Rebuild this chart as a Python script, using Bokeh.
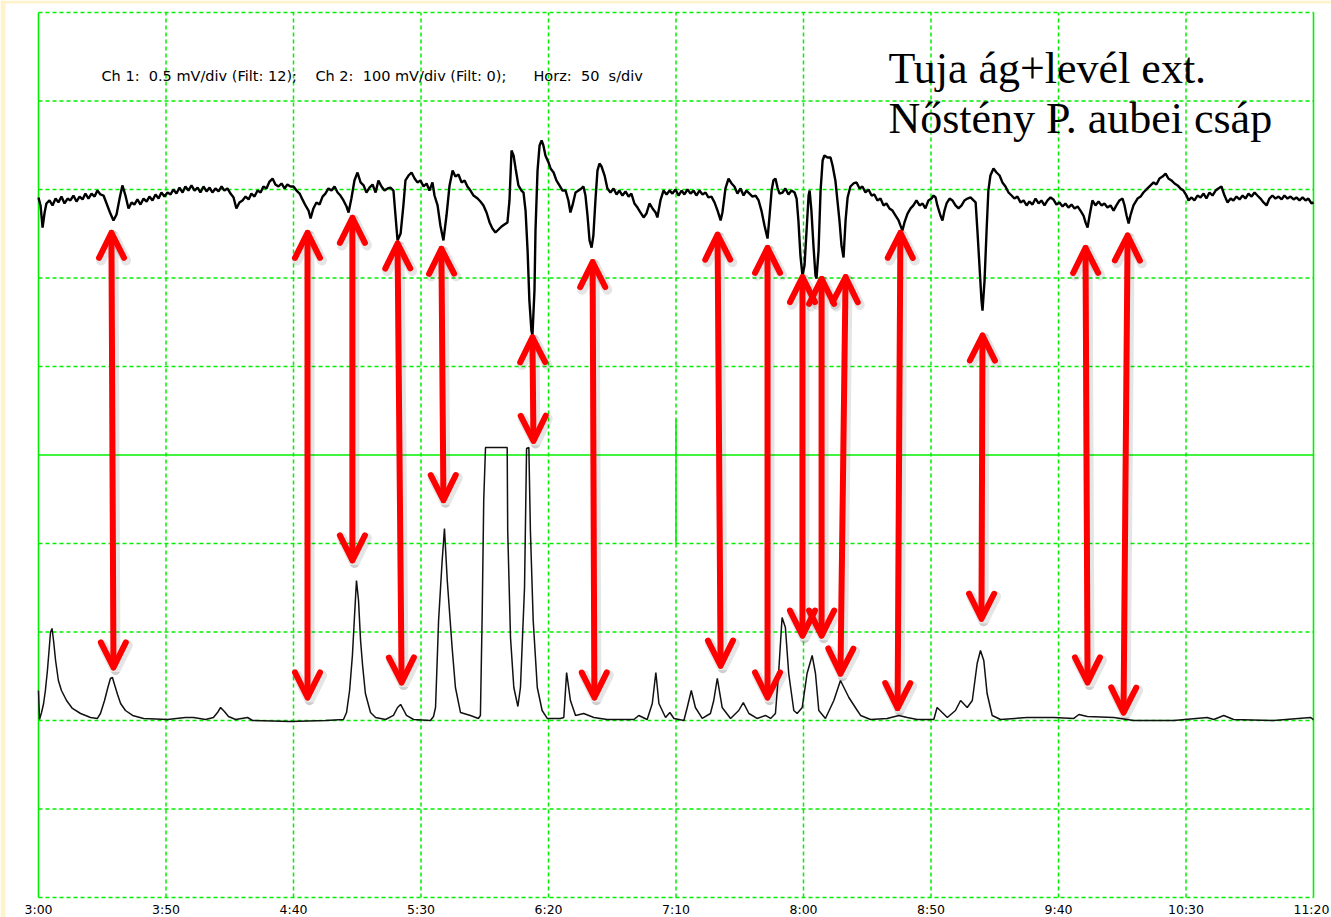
from bokeh.plotting import figure
from bokeh.models import Range1d, Arrow, OpenHead, ColumnDataSource, BoxAnnotation
from bokeh.core.properties import value
from bokeh.embed import file_html
from bokeh.resources import INLINE

# ---------------- data ----------------
tick_seconds = [180, 230, 280, 330, 380, 430, 480, 530, 580, 630, 680]
tick_labels = ["3:00", "3:50", "4:40", "5:30", "6:20", "7:10", "8:00", "8:50", "9:40", "10:30", "11:20"]
grid_rows = [0, 1, 2, 3, 4, 5, 6, 7, 8, 9, 10]

NB = "\u00a0"
header_texts = ["Ch 1:" + NB * 2 + "0.5 mV/div (Filt: 12);",
                "Ch 2:" + NB * 2 + "100 mV/div (Filt: 0);",
                "Horz:" + NB * 2 + "50" + NB * 2 + "s/div"]
header_seconds = [204.7, 288.6, 374.1]
title_lines = ["Tuja ág+levél ext.", "Nőstény P. aubei csáp"]

# Ch 1 (EAD): time [s], signal [mV] relative to its baseline division
ead_points = [
    (180.0,-0.045),(180.8,-0.090),(181.6,-0.215),(182.4,-0.130),(183.1,-0.079),(184.3,-0.062),(185.5,-0.090),
    (186.7,-0.051),(187.8,-0.073),(189.0,-0.040),(190.2,-0.079),(191.4,-0.051),(192.5,-0.062),(193.7,-0.034),
    (194.9,-0.068),(196.1,-0.040),(197.3,-0.056),(198.4,-0.023),(199.6,-0.051),(200.8,-0.023),(202.0,-0.040),
    (203.1,-0.006),(204.3,-0.028),(205.5,-0.034),(206.7,-0.079),(208.2,-0.136),(209.4,-0.175),(210.6,-0.141),
    (211.8,-0.051),(212.9,0.023),(214.1,-0.034),(215.3,-0.107),(216.5,-0.073),(217.6,-0.085),(218.8,-0.056),
    (220.0,-0.085),(221.2,-0.051),(222.4,-0.068),(223.5,-0.040),(224.7,-0.062),(225.9,-0.028),(227.1,-0.051),
    (228.2,-0.017),(229.4,-0.040),(230.6,-0.017),(231.8,-0.028),(232.9,0.000),(234.1,-0.023),(235.3,0.011),
    (236.5,-0.017),(237.6,0.017),(238.8,-0.006),(240.0,0.023),(241.2,-0.006),(242.4,0.011),(243.5,-0.017),
    (244.7,0.017),(245.9,-0.011),(247.1,0.011),(248.2,-0.017),(249.4,0.006),(250.6,-0.011),(251.8,0.017),
    (252.9,-0.006),(254.1,0.006),(255.3,-0.023),(256.5,-0.045),(257.6,-0.107),(258.8,-0.073),(260.0,-0.062),
    (261.2,-0.040),(262.4,-0.056),(263.5,-0.023),(264.7,-0.040),(265.9,-0.006),(267.1,-0.017),(268.2,0.017),
    (269.4,0.006),(270.6,0.045),(271.8,0.062),(272.9,0.028),(274.1,0.017),(275.3,0.034),(276.5,0.006),
    (277.6,0.028),(278.8,0.017),(280.0,0.017),(281.2,-0.006),(282.4,-0.023),(283.5,-0.056),(284.7,-0.090),
    (285.9,-0.119),(286.7,-0.164),(287.8,-0.107),(289.0,-0.073),(290.2,-0.085),(291.4,-0.040),(292.5,-0.023),
    (293.7,0.006),(294.9,-0.006),(296.1,0.017),(297.3,-0.017),(298.4,-0.034),(299.6,-0.062),(300.8,-0.096),
    (301.6,-0.130),(302.7,-0.051),(303.9,0.051),(305.1,0.096),(306.3,0.040),(307.5,0.023),(308.6,-0.017),
    (309.8,0.011),(311.0,0.028),(312.2,-0.017),(313.3,0.051),(314.5,0.017),(315.7,-0.006),(316.9,0.006),
    (318.0,0.011),(319.2,-0.006),(320.0,-0.147),(320.8,-0.288),(322.0,-0.249),(323.1,-0.090),(323.9,0.051),
    (325.1,0.079),(326.3,0.096),(327.5,0.062),(328.6,0.040),(329.8,0.051),(331.0,0.017),(332.2,0.034),
    (333.3,-0.006),(334.5,0.040),(335.3,-0.034),(336.5,-0.090),(337.6,-0.203),(338.8,-0.288),(340.0,-0.147),
    (341.2,0.023),(342.4,0.107),(343.5,0.073),(344.7,0.085),(345.9,0.040),(347.1,0.051),(348.2,0.017),
    (349.4,-0.006),(350.6,-0.034),(352.2,-0.051),(353.3,-0.068),(354.5,-0.090),(355.7,-0.130),(356.9,-0.186),
    (358.0,-0.220),(359.2,-0.243),(360.4,-0.226),(361.6,-0.209),(362.7,-0.198),(363.9,-0.186),(364.7,-0.062),
    (365.5,0.220),(366.3,0.192),(367.1,0.119),(368.2,0.023),(369.4,-0.006),(370.2,-0.017),(371.0,-0.119),
    (371.8,-0.345),(372.5,-0.627),(373.3,-0.797),(373.7,-0.825),(374.5,-0.571),(374.9,-0.232),(375.7,0.107),
    (376.5,0.249),(377.3,0.277),(378.0,0.249),(378.8,0.192),(380.0,0.153),(380.8,0.119),(382.0,0.096),
    (383.1,0.051),(384.3,0.023),(385.5,-0.006),(386.7,-0.006),(387.8,-0.062),(388.6,-0.130),(389.4,-0.090),
    (390.6,-0.017),(391.8,-0.006),(392.9,0.006),(393.7,0.017),(394.5,-0.034),(395.3,-0.147),(396.1,-0.288),
    (396.9,-0.328),(397.6,-0.260),(398.4,-0.062),(399.2,0.107),(400.0,0.147),(400.8,0.130),(402.0,0.079),
    (403.1,0.006),(404.3,-0.017),(405.5,0.006),(406.7,-0.028),(407.8,-0.006),(409.0,-0.034),(410.2,-0.011),
    (411.4,-0.040),(412.5,-0.023),(413.7,-0.079),(414.9,-0.102),(416.1,-0.130),(417.3,-0.158),(418.4,-0.136),
    (419.6,-0.079),(420.8,-0.107),(422.0,-0.130),(422.7,-0.158),(423.9,-0.062),(425.1,-0.006),(426.3,-0.028),
    (427.5,-0.006),(428.6,-0.023),(429.8,0.000),(431.0,-0.034),(432.2,-0.006),(433.3,-0.028),(434.5,0.000),
    (435.7,-0.023),(436.9,-0.006),(438.0,-0.034),(439.2,-0.006),(440.4,-0.028),(441.6,-0.017),(442.7,-0.045),
    (443.9,-0.040),(445.1,-0.073),(446.3,-0.119),(447.5,-0.175),(448.2,-0.130),(449.4,0.006),(450.6,0.062),
    (451.8,0.034),(452.9,0.017),(454.1,-0.023),(455.3,0.006),(456.5,-0.034),(457.6,-0.006),(458.8,-0.023),
    (460.0,-0.040),(461.2,-0.034),(462.4,-0.062),(463.5,-0.119),(464.7,-0.203),(465.9,-0.277),(466.7,-0.147),
    (467.5,-0.006),(468.2,0.051),(469.0,0.062),(469.8,0.011),(470.6,-0.023),(471.8,-0.017),(472.9,0.006),
    (474.1,-0.028),(475.3,-0.006),(476.5,-0.017),(477.3,-0.051),(478.0,-0.175),(478.8,-0.373),(479.6,-0.486),
    (480.4,-0.429),(481.2,-0.232),(482.0,-0.034),(482.4,-0.006),(483.1,-0.119),(483.9,-0.316),(484.7,-0.486),
    (485.1,-0.503),(485.9,-0.345),(486.7,-0.006),(487.5,0.164),(488.2,0.192),(489.4,0.181),(490.6,0.181),
    (491.4,0.136),(492.5,0.051),(493.3,-0.062),(494.1,-0.175),(494.9,-0.316),(495.7,-0.384),(496.5,-0.175),
    (497.3,-0.045),(498.4,0.017),(499.6,0.034),(500.8,0.040),(502.0,0.006),(503.1,0.017),(504.3,-0.017),
    (505.5,0.000),(506.7,-0.034),(507.8,-0.028),(509.0,-0.062),(510.2,-0.051),(511.4,-0.090),(512.5,-0.079),
    (513.7,-0.107),(514.9,-0.119),(516.1,-0.147),(517.3,-0.175),(518.0,-0.203),(518.8,-0.232),(519.6,-0.186),
    (520.8,-0.136),(522.0,-0.107),(523.1,-0.090),(524.3,-0.062),(525.5,-0.090),(526.7,-0.079),(527.8,-0.107),
    (529.0,-0.062),(530.2,-0.051),(531.0,-0.034),(531.8,-0.045),(532.5,-0.090),(533.7,-0.147),(534.5,-0.175),
    (535.3,-0.119),(536.1,-0.079),(537.3,-0.051),(538.4,-0.062),(539.6,-0.090),(540.8,-0.107),(542.0,-0.090),
    (543.1,-0.062),(544.3,-0.051),(545.5,-0.045),(546.7,-0.062),(547.5,-0.073),(548.2,-0.232),(549.0,-0.429),
    (549.8,-0.627),(550.2,-0.684),(551.0,-0.514),(551.8,-0.232),(552.5,-0.006),(553.3,0.079),(554.5,0.119),
    (555.7,0.096),(556.9,0.079),(558.0,0.040),(559.2,0.017),(560.4,-0.017),(561.6,-0.034),(562.7,-0.051),
    (563.9,-0.040),(565.1,-0.073),(566.3,-0.062),(567.5,-0.090),(568.6,-0.068),(569.8,-0.085),(571.0,-0.051),
    (572.2,-0.079),(573.3,-0.062),(574.5,-0.090),(575.7,-0.062),(576.9,-0.045),(578.0,-0.056),(579.2,-0.085),
    (580.4,-0.073),(581.6,-0.096),(582.7,-0.079),(583.9,-0.102),(585.1,-0.085),(586.3,-0.107),(587.5,-0.096),
    (588.6,-0.119),(589.8,-0.147),(590.6,-0.186),(591.4,-0.215),(592.2,-0.147),(593.3,-0.062),(594.5,-0.090),
    (595.7,-0.068),(596.9,-0.090),(598.0,-0.079),(599.2,-0.102),(600.4,-0.090),(601.6,-0.119),(602.7,-0.090),
    (603.9,-0.062),(605.1,-0.051),(605.9,-0.090),(606.7,-0.147),(607.5,-0.192),(608.2,-0.147),(609.4,-0.090),
    (611.0,-0.051),(612.2,-0.040),(613.3,-0.017),(614.9,0.006),(616.1,0.023),(617.3,0.040),(618.4,0.028),
    (619.6,0.062),(620.8,0.073),(622.0,0.090),(623.1,0.062),(624.3,0.051),(625.5,0.034),(626.7,0.023),
    (627.8,0.006),(629.0,-0.006),(630.2,-0.034),(631.0,-0.062),(632.2,-0.045),(633.3,-0.062),(634.5,-0.034),
    (635.7,-0.045),(636.9,-0.023),(638.0,-0.051),(639.2,-0.017),(640.4,-0.034),(641.6,-0.006),(642.7,0.006),
    (643.9,0.017),(645.1,-0.034),(646.3,-0.073),(647.5,-0.051),(648.6,-0.062),(649.8,-0.040),(651.0,-0.056),
    (652.2,-0.034),(653.3,-0.051),(654.5,-0.023),(655.7,-0.040),(656.9,-0.017),(658.0,-0.034),(659.2,-0.051),
    (660.4,-0.073),(661.6,-0.090),(662.7,-0.051),(663.9,-0.034),(665.1,-0.051),(666.3,-0.040),(667.5,-0.056),
    (668.6,-0.034),(669.8,-0.051),(671.0,-0.040),(672.2,-0.056),(673.3,-0.045),(674.5,-0.062),(675.7,-0.045),
    (676.9,-0.062),(678.0,-0.051),(679.2,-0.079),(680.0,-0.073),
]

# Ch 2 (FID): time [s], signal [mV] relative to its baseline division
fid_points = [
    (180.0,33.9),(180.4,1.1),(181.2,9.0),(182.0,19.2),(182.7,33.9),(183.5,56.5),(184.3,84.8),(184.7,99.4),
    (185.3,104.0),(185.9,90.4),(186.7,67.8),(187.8,45.2),(189.0,33.9),(191.0,22.6),(193.3,13.6),(196.5,7.9),
    (200.4,3.4),(203.1,2.3),(204.3,7.9),(205.9,22.6),(207.1,36.2),(208.2,47.5),(209.0,48.6),(209.8,40.7),
    (211.0,29.4),(212.2,19.2),(214.1,11.3),(216.9,5.7),(221.2,2.3),(230.6,1.1),(237.6,3.4),(240.8,3.4),
    (245.5,1.1),(248.6,3.4),(250.2,9.0),(251.4,14.7),(252.9,10.2),(254.5,4.5),(257.3,1.1),(262.0,3.4),
    (263.9,0.0),(278.8,-1.1),(292.5,0.0),(299.6,1.1),(300.8,9.0),(302.0,33.9),(303.1,73.5),(303.9,116.4),
    (304.7,158.2),(305.5,135.6),(306.3,90.4),(307.1,62.2),(308.2,30.5),(310.2,9.0),(312.2,3.4),(316.1,1.1),
    (319.2,5.7),(320.8,14.7),(322.0,18.1),(323.1,12.4),(324.3,5.7),(327.1,1.1),(333.7,0.0),(334.9,4.5),
    (335.7,14.7),(336.9,113.0),(338.3,180.8),(339.2,217.0),(340.3,158.2),(342.2,82.5),(343.5,37.3),(345.5,9.0),
    (349.4,5.7),(352.5,2.3),(353.3,5.7),(354.0,120.9),(354.6,248.6),(355.3,308.5),(363.8,308.5),(364.0,214.7),
    (365.1,93.8),(366.4,37.3),(368.0,15.8),(369.0,37.3),(370.6,150.3),(371.4,307.4),(372.3,308.5),(372.9,214.7),
    (374.0,113.0),(375.6,37.3),(377.5,11.3),(379.5,2.3),(384.7,2.3),(386.0,3.4),(387.1,54.2),(388.6,22.6),
    (390.6,5.7),(393.8,7.9),(397.8,3.4),(403.0,1.1),(413.5,1.1),(415.4,5.7),(418.7,1.1),(420.7,19.2),
    (422.1,54.2),(423.3,19.2),(425.9,3.4),(427.6,9.0),(429.2,2.3),(433.1,0.0),(434.4,14.7),(436.0,33.9),
    (437.6,14.7),(440.3,2.3),(443.5,7.9),(444.8,22.6),(446.2,47.5),(448.1,14.7),(451.4,2.3),(454.6,11.3),
    (456.4,20.3),(458.6,7.9),(461.8,2.3),(465.1,5.7),(467.1,2.3),(469.0,7.9),(470.3,56.5),(471.6,116.4),
    (472.9,105.1),(474.2,53.1),(476.2,11.3),(477.5,7.9),(479.5,14.7),(481.4,53.1),(483.4,73.5),(484.7,53.1),
    (486.0,11.3),(488.6,2.3),(491.9,22.6),(494.5,45.2),(497.8,26.0),(501.1,11.3),(502.4,5.7),(506.3,1.1),
    (512.8,2.3),(517.4,5.7),(520.7,3.4),(524.6,1.1),(531.1,1.1),(532.4,14.7),(536.4,3.4),(539.6,11.3),
    (541.6,22.6),(544.2,14.7),(546.2,22.6),(548.1,64.4),(549.4,79.1),(550.7,67.8),(552.0,30.5),(554.0,5.7),
    (557.3,1.1),(567.7,3.4),(578.2,3.4),(586.0,2.3),(588.0,6.8),(591.3,4.5),(601.7,3.4),(609.5,0.0),
    (625.2,0.0),(638.3,3.4),(640.9,1.1),(644.8,5.7),(648.7,1.1),(664.4,0.0),(678.8,3.4),(680.0,1.1),
]

# red double-headed arrows linking EAD responses to FID peaks (time [s], screen division)
arrow_t_top = [208.6, 285.5, 303.1, 320.8, 338.0, 373.7, 397.3, 446.3, 465.9, 479.6, 487.1, 496.5, 518.0, 550.2, 590.6, 607.1]
arrow_div_top = [7.51, 7.51, 7.68, 7.39, 7.33, 6.33, 7.18, 7.49, 7.34, 7.01, 6.99, 7.01, 7.51, 6.35, 7.34, 7.48]
arrow_t_bottom = [209.4, 285.5, 303.1, 322.4, 338.8, 374.1, 398.0, 447.5, 465.9, 479.6, 487.1, 494.5, 516.9, 549.8, 591.4, 605.5]
arrow_div_bottom = [2.60, 2.26, 3.81, 2.43, 4.49, 5.16, 2.26, 2.62, 2.26, 2.96, 2.96, 2.53, 2.14, 3.15, 2.43, 2.09]

EAD_OFFSET_DIV, EAD_MV_PER_DIV = 8.0, 0.5
FID_OFFSET_DIV, FID_MV_PER_DIV = 2.0, 100.0

# ---------------- layout ----------------
W, H = 1331, 917
PX_PER_S = 2.55
PX_PER_DIV = 88.5
LEFT_PAD, TOP_PAD = 38, 12          # graticule left/top offset in the canvas (px)
x0 = tick_seconds[0] - LEFT_PAD / PX_PER_S
x1 = x0 + W / PX_PER_S
y1 = grid_rows[-1] + TOP_PAD / PX_PER_DIV
y0 = y1 - H / PX_PER_DIV

p = figure(width=W, height=H, x_range=Range1d(x0, x1), y_range=Range1d(y0, y1),
           output_backend="svg", toolbar_location=None,
           x_axis_location=None, y_axis_location=None, min_border=0,
           outline_line_color=None, background_fill_color="white", border_fill_color="white")
p.grid.visible = False

# cream slide margin at left and top
CREAM = "#fff3cc"
p.add_layout(BoxAnnotation(left=x0, right=x0 + 5 / PX_PER_S, fill_color=CREAM, fill_alpha=1, line_color=None, level="underlay"))
p.add_layout(BoxAnnotation(bottom=y1 - 3 / PX_PER_DIV, top=y1, fill_color=CREAM, fill_alpha=1, line_color=None, level="underlay"))

GREEN = "#00f000"
t_first, t_last = tick_seconds[0], tick_seconds[-1]
t_mid = tick_seconds[len(tick_seconds) // 2]
r_first, r_last = grid_rows[0], grid_rows[-1]
r_mid = grid_rows[len(grid_rows) // 2]

# dashed graticule
inner_t = tick_seconds[1:-1]
p.segment(x0=inner_t, y0=[r_first] * len(inner_t), x1=inner_t, y1=[r_last] * len(inner_t),
          line_color=GREEN, line_width=1.5, line_dash="4 3")
dash_rows = [r for r in grid_rows if r != r_mid]
p.segment(x0=[t_first] * len(dash_rows), y0=dash_rows, x1=[t_last] * len(dash_rows), y1=dash_rows,
          line_color=GREEN, line_width=1.5, line_dash="4 3")
# solid frame parts and centre cross
p.segment(x0=[t_first, t_last, t_first, t_mid], y0=[r_first, r_first, r_mid, r_mid - 1],
          x1=[t_first, t_last, t_last, t_mid], y1=[r_last, r_last, r_mid, r_mid + 0.4],
          line_color=GREEN, line_width=1.6)

# traces
ead_t = [a for a, b in ead_points]
ead_y = [EAD_OFFSET_DIV + b / EAD_MV_PER_DIV for a, b in ead_points]
fid_t = [a for a, b in fid_points]
fid_y = [FID_OFFSET_DIV + b / FID_MV_PER_DIV for a, b in fid_points]
p.line(fid_t, fid_y, line_color="#111111", line_width=1.5)
p.line(ead_t, ead_y, line_color="black", line_width=2.4)

# texts
p.text(x=header_seconds, y=[9.283] * 3, text=header_texts, text_font=value("DejaVu Sans"),
       text_font_size=value("14.5px"), text_color="black", text_baseline="alphabetic", text_align="left")
p.text(x=[513.3, 513.3], y=[9.367, 8.802], text=title_lines, text_font=value("Liberation Serif"),
       text_font_size=value("44px"), text_color="black", text_baseline="alphabetic", text_align="left")

label_y = -0.13
p.text(x=tick_seconds[:-1], y=[label_y] * (len(tick_seconds) - 1), text=tick_labels[:-1],
       text_font=value("DejaVu Sans"), text_font_size=value("12.5px"), text_color="black",
       text_align="center", text_baseline="alphabetic")
p.text(x=[x1 - 0.8], y=[label_y], text=tick_labels[-1:],
       text_font=value("DejaVu Sans"), text_font_size=value("12.5px"), text_color="black",
       text_align="right", text_baseline="alphabetic")

# arrows (with soft shadow)
shadow_src = ColumnDataSource(dict(
    xs=[t + 0.8 for t in arrow_t_top], ys=[d - 0.03 for d in arrow_div_top],
    xe=[t + 0.8 for t in arrow_t_bottom], ye=[d - 0.03 for d in arrow_div_bottom]))
arrow_src = ColumnDataSource(dict(xs=arrow_t_top, ys=arrow_div_top, xe=arrow_t_bottom, ye=arrow_div_bottom))


def head(color, alpha, width):
    return OpenHead(size=25, line_color=color, line_alpha=alpha, line_width=width,
                    line_cap="round", line_join="round")


p.add_layout(Arrow(start=head("black", 0.10, 10), end=head("black", 0.10, 10),
                   x_start="xs", y_start="ys", x_end="xe", y_end="ye", source=shadow_src,
                   line_color="black", line_alpha=0.10, line_width=10, line_cap="round"))
p.add_layout(Arrow(start=head("#ff0000", 1.0, 6), end=head("#ff0000", 1.0, 6),
                   x_start="xs", y_start="ys", x_end="xe", y_end="ye", source=arrow_src,
                   line_color="#ff0000", line_width=6, line_cap="round"))

open("out.html", "w").write(file_html(p, INLINE))
